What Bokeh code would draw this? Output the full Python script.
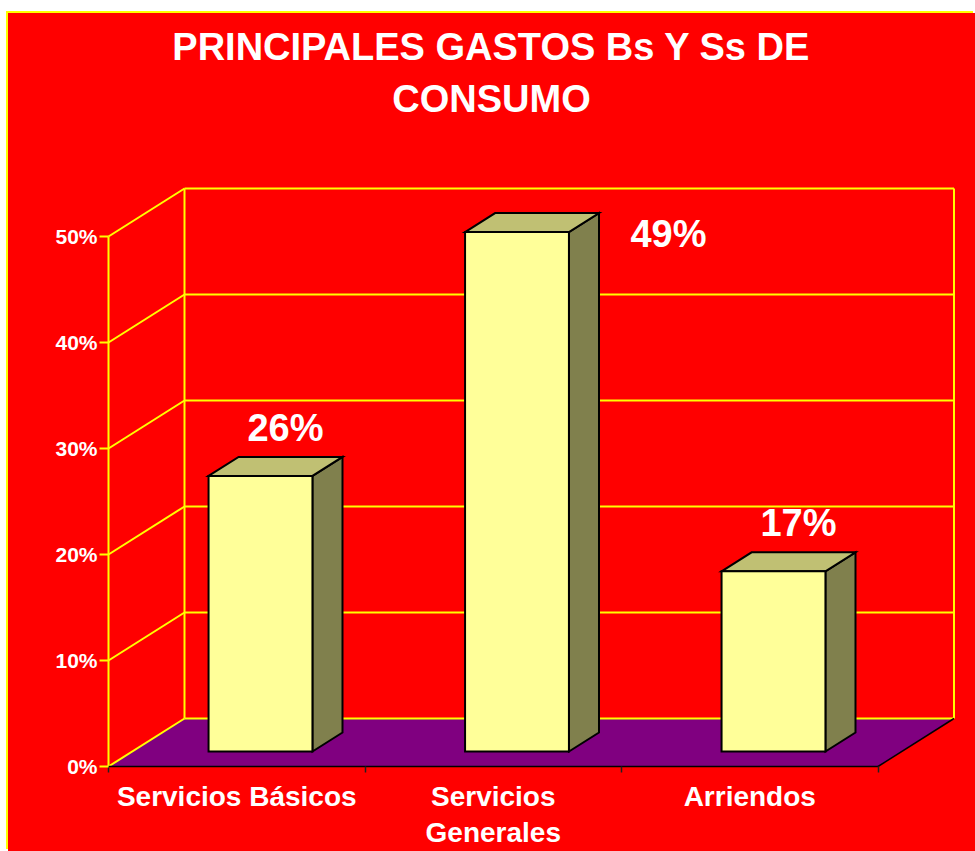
from bokeh.plotting import figure
from bokeh.models import Range1d, LinearAxis, FixedTicker
from bokeh.embed import file_html
from bokeh.resources import INLINE
from bokeh.core.properties import value

# ---------------- data ----------------
categories = ["Servicios Básicos", "Servicios\nGenerales", "Arriendos"]
values = [26, 49, 17]
value_labels = ["26%", "49%", "17%"]
y_ticks = [0, 10, 20, 30, 40, 50]
y_tick_labels = ["0%", "10%", "20%", "30%", "40%", "50%"]
title_lines = ["PRINCIPALES GASTOS Bs Y Ss DE", "CONSUMO"]

# ---------------- style / geometry ----------------
FONT = "Liberation Sans"
RED = "#FF0000"
YELLOW = "#FFFF00"
PURPLE = "#800080"
FRONT = "#FFFF99"
TOP = "#C0C073"
SIDE = "#80804D"

OX, OY = 8, 13             # page offset of the canvas
W, H = 975 - OX, 851 - OY  # canvas size
FL = 96                    # frame left border (canvas px) -> page x 104
PX_CAT = 256.5             # px per category
PX_PCT = 10.6              # px per percent
ORIG_X, ORIG_Y = 108, 766  # page position of (0, 0%)

FW, FH = W - FL, H
x_start = -(ORIG_X - (OX + FL)) / PX_CAT
y_start = -((OY + FH) - ORIG_Y) / PX_PCT
DX = 76 / PX_CAT           # depth offset (x) of the back wall
DY = 48 / PX_PCT           # depth offset (y) of the back wall
Y_MAX = y_ticks[-1]
n = len(categories)

BAR_W = 0.405
F0, F1 = 0.3125, 0.708     # bar depth span (fractions of full depth)
TXT_SHIFT = 14 / PX_PCT    # svg text baseline compensation


def px_x(page_x):
    return (page_x - ORIG_X) / PX_CAT


def px_y(page_y):
    return (ORIG_Y - page_y) / PX_PCT


p = figure(width=W, height=H, output_backend="svg", toolbar_location=None,
           x_range=Range1d(x_start, x_start + FW / PX_CAT),
           y_range=Range1d(y_start, y_start + FH / PX_PCT),
           x_axis_type=None, y_axis_type=None,
           min_border_left=FL, min_border_bottom=0, min_border_top=0, min_border_right=0,
           background_fill_color=RED, border_fill_color=RED, outline_line_color=None,
           margin=(OY, 0, 0, OX),
           styles={"box-shadow": "-2px -2px 0 0 #FFFF00", "background-color": RED})

# ---------------- axes ----------------
yax = LinearAxis(ticker=FixedTicker(ticks=y_ticks, minor_ticks=[]),
                 major_label_overrides={t: l for t, l in zip(y_ticks, y_tick_labels)})
yax.axis_line_color = None
yax.major_tick_line_color = YELLOW
yax.major_tick_line_width = 2
yax.major_tick_out = 5
yax.major_tick_in = 4
yax.minor_tick_line_color = None
yax.major_label_standoff = 2
yax.major_label_text_color = "white"
yax.major_label_text_font = FONT
yax.major_label_text_font_style = "bold"
yax.major_label_text_font_size = "21px"
p.add_layout(yax, "left")

centers = [i + 0.5 for i in range(n)]
xax = LinearAxis(ticker=FixedTicker(ticks=centers, minor_ticks=list(range(n + 1))),
                 major_label_overrides={c: l for c, l in zip(centers, categories)},
                 fixed_location=0)
xax.axis_line_color = None
xax.major_tick_line_color = None
xax.major_tick_out = 0
xax.major_tick_in = 0
xax.minor_tick_line_color = "#202020"
xax.minor_tick_line_width = 1.5
xax.minor_tick_out = 6
xax.minor_tick_in = 0
xax.major_label_standoff = 8
xax.major_label_text_color = "white"
xax.major_label_text_font = FONT
xax.major_label_text_font_style = "bold"
xax.major_label_text_font_size = "28px"
xax.major_label_text_line_height = 1.18
p.add_layout(xax, "below")

# ---------------- floor ----------------
p.patch([0, DX, n + DX, n], [0, DY, DY, 0], fill_color=PURPLE, line_color=None)

# ---------------- walls (yellow) ----------------
xs, ys = [], []
for t in y_ticks:
    xs.append([DX, n + DX]); ys.append([t + DY, t + DY])       # back wall grid
    xs.append([0, DX]); ys.append([t, t + DY])                 # side wall diagonals
xs.append([0, 0]); ys.append([0, Y_MAX])
xs.append([DX, DX]); ys.append([DY, Y_MAX + DY])
xs.append([n + DX, n + DX]); ys.append([DY, Y_MAX + DY])
p.multi_line(xs, ys, line_color=YELLOW, line_width=2)

# floor outer edges (black)
p.multi_line([[0, n], [n, n + DX]], [[0, 0], [0, DY]], line_color="black", line_width=1.5)

# ---------------- bars ----------------
fx0, fx1, fy0, fy1 = [], [], [], []
top_x, top_y, side_x, side_y = [], [], [], []
bdx, bdy = (F1 - F0) * DX, (F1 - F0) * DY
for i, v in enumerate(values):
    x0 = i + 0.5 - BAR_W / 2 + F0 * DX
    x1 = x0 + BAR_W
    y0 = F0 * DY
    y1 = v + F0 * DY
    fx0.append(x0); fx1.append(x1); fy0.append(y0); fy1.append(y1)
    top_x.append([x0, x0 + bdx, x1 + bdx, x1])
    top_y.append([y1, y1 + bdy, y1 + bdy, y1])
    side_x.append([x1, x1, x1 + bdx, x1 + bdx])
    side_y.append([y0, y1, y1 + bdy, y0 + bdy])

p.patches(side_x, side_y, fill_color=SIDE, line_color="black", line_width=2, line_join="miter")
p.patches(top_x, top_y, fill_color=TOP, line_color="black", line_width=2, line_join="miter")
p.quad(left=fx0, right=fx1, bottom=fy0, top=fy1, fill_color=FRONT,
       line_color="black", line_width=2, line_join="miter")

# ---------------- value labels ----------------
lx, ly = [], []
for i, v in enumerate(values):
    if v + 5 > Y_MAX:          # no room above: place beside the bar
        lx.append(i + 0.5 + 0.683)
        ly.append(v - 0.13 + TXT_SHIFT)
    else:
        lx.append(i + 0.5 + 0.19)
        ly.append(v + F1 * DY + 1.4 + TXT_SHIFT)
p.text(lx, ly, text=value_labels, text_color="white", text_font=value(FONT),
       text_font_style="bold", text_font_size="38px", text_align="center",
       text_baseline="alphabetic")

# ---------------- title ----------------
p.text([px_x(491)] * 2, [px_y(60) + TXT_SHIFT, px_y(112) + TXT_SHIFT], text=title_lines,
       text_color="white", text_font=value(FONT), text_font_style="bold",
       text_font_size="38px", text_align="center", text_baseline="alphabetic")

open("out.html", "w").write(file_html(p, INLINE))
